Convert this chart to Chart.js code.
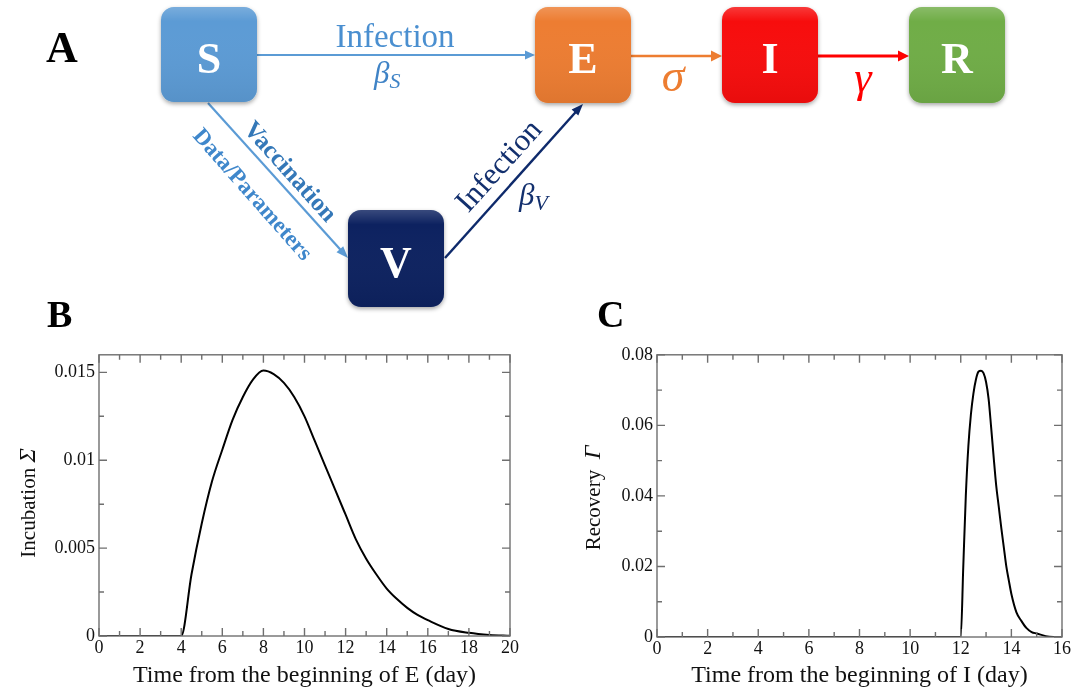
<!DOCTYPE html>
<html>
<head>
<meta charset="utf-8">
<script src="https://cdn.jsdelivr.net/npm/chart.js@4.4.0/dist/chart.umd.min.js"></script>
<style>
  html, body { margin: 0; padding: 0; background: #fff; }
  #wrap { position: relative; width: 1082px; height: 692px; overflow: hidden; }
  canvas { position: absolute; }
  #diagram { position: absolute; left: 0; top: 0; pointer-events: none; }
</style>
</head>
<body>
<div id="wrap">
  <canvas id="chartB" width="540" height="352" style="left:0;top:340px"></canvas>
  <canvas id="chartC" width="522" height="352" style="left:560px;top:340px"></canvas>

  <svg id="diagram" width="1082" height="692" xmlns="http://www.w3.org/2000/svg">
    <defs>
      <filter id="shadow" x="-20%" y="-20%" width="140%" height="150%">
        <feDropShadow dx="0" dy="2" stdDeviation="2" flood-color="#000" flood-opacity="0.35"/>
      </filter>
      <linearGradient id="gloss" x1="0" y1="0" x2="0" y2="1">
        <stop offset="0" stop-color="#fff" stop-opacity="0.18"/>
        <stop offset="0.15" stop-color="#fff" stop-opacity="0"/>
        <stop offset="1" stop-color="#000" stop-opacity="0.06"/>
      </linearGradient>
    </defs>

    <g font-family="Liberation Serif" font-weight="bold" fill="#000">
      <text x="46" y="62" font-size="44">A</text>
      <text x="47" y="327" font-size="38">B</text>
      <text x="597" y="327" font-size="38">C</text>
    </g>

    <!-- arrows -->
    <g stroke-linecap="butt">
      <line x1="257" y1="55" x2="527" y2="55" stroke="#5b9bd5" stroke-width="2.2"/>
      <polygon points="535,55 525,50.5 525,59.5" fill="#5b9bd5"/>

      <line x1="208" y1="103" x2="343" y2="252.5" stroke="#5b9bd5" stroke-width="2.2"/>
      <polygon points="348,258 336.5,252.3 343.2,246.3" fill="#5b9bd5"/>

      <line x1="445" y1="258" x2="578" y2="109.5" stroke="#0e2a6b" stroke-width="2.4"/>
      <polygon points="583,104 578.3,115.6 571.6,109.6" fill="#0e2a6b"/>

      <line x1="631" y1="56" x2="713" y2="56" stroke="#ed7d31" stroke-width="2.6"/>
      <polygon points="722,56 711,50.5 711,61.5" fill="#ed7d31"/>

      <line x1="818" y1="56" x2="900" y2="56" stroke="#ff0000" stroke-width="3"/>
      <polygon points="909,56 898,50.5 898,61.5" fill="#ff0000"/>
    </g>

    <!-- compartments -->
    <g filter="url(#shadow)">
      <rect x="161" y="7" width="96" height="95" rx="13" fill="#5b9bd5"/>
      <rect x="535" y="7" width="96" height="96" rx="13" fill="#ed7d31"/>
      <rect x="722" y="7" width="96" height="96" rx="13" fill="#f70a0a"/>
      <rect x="909" y="7" width="96" height="96" rx="13" fill="#70ad47"/>
      <rect x="348" y="210" width="96" height="97" rx="13" fill="#0c2461"/>
    </g>
    <g>
      <rect x="161" y="7" width="96" height="95" rx="13" fill="url(#gloss)"/>
      <rect x="535" y="7" width="96" height="96" rx="13" fill="url(#gloss)"/>
      <rect x="722" y="7" width="96" height="96" rx="13" fill="url(#gloss)"/>
      <rect x="909" y="7" width="96" height="96" rx="13" fill="url(#gloss)"/>
      <rect x="348" y="210" width="96" height="97" rx="13" fill="url(#gloss)"/>
    </g>
    <g font-family="Liberation Serif" font-weight="bold" font-size="44" fill="#fff" text-anchor="middle">
      <text x="209" y="73">S</text>
      <text x="583" y="73">E</text>
      <text x="770" y="73">I</text>
      <text x="957" y="73">R</text>
      <text x="396" y="277">V</text>
    </g>

    <!-- rates and transition labels -->
    <g font-family="Liberation Serif">
      <text x="395" y="47" font-size="33" fill="#4a8fd0" text-anchor="middle">Infection</text>
      <text x="374" y="83" font-size="31" font-style="italic" fill="#3f83c6">β<tspan font-size="22" dy="5">S</tspan></text>
      <text x="673" y="91" font-size="46" font-style="italic" fill="#ed7d31" text-anchor="middle">σ</text>
      <text x="863" y="92" font-size="44" font-style="italic" fill="#ff0000" text-anchor="middle">γ</text>

      <text transform="translate(291,171) rotate(48)" font-size="25" font-weight="bold" fill="#3478b8"
            text-anchor="middle" dominant-baseline="central">Vaccination</text>
      <text transform="translate(253,194) rotate(48.5)" font-size="23" font-weight="bold" fill="#3f87cb"
            text-anchor="middle" dominant-baseline="central">Data/Parameters</text>
      <text transform="translate(498,165) rotate(-48)" font-size="31" fill="#13306e"
            text-anchor="middle" dominant-baseline="central">Infection</text>
      <text x="519" y="205" font-size="31" font-style="italic" fill="#13306e">β<tspan font-size="22" dy="5">V</tspan></text>
    </g>
  </svg>
</div>

<script>
// Panel B: incubation distribution
const incubDays = [0, 4, 4.5, 5, 5.5, 6, 6.5, 7, 7.5, 8, 8.5, 9, 9.5, 10, 10.5, 11, 11.5, 12,
  12.5, 13, 13.5, 14, 14.5, 15, 15.5, 16, 17, 18, 19, 20];
const incubValues = [0, 0, 0.0035, 0.0064, 0.0088, 0.0106, 0.0123, 0.0136, 0.0146, 0.0151, 0.0149,
  0.0144, 0.0136, 0.0125, 0.0111, 0.0097, 0.0083, 0.0069, 0.0055, 0.0044, 0.0035, 0.0027, 0.0021,
  0.0016, 0.0012, 0.0009, 0.0004, 0.00018, 0.00006, 0.00001];
const incubXTicks = [0, 2, 4, 6, 8, 10, 12, 14, 16, 18, 20];
const incubYTicks = [0, 0.005, 0.01, 0.015];

// Panel C: recovery distribution
const recovDays = [0, 12, 12.1, 12.2, 12.3, 12.4, 12.5, 12.6, 12.7, 12.8, 12.9, 13, 13.1, 13.2,
  13.3, 13.4, 13.5, 13.6, 13.7, 13.8, 13.9, 14, 14.2, 14.4, 14.6, 14.8, 15, 15.5, 16];
const recovValues = [0, 0, 0.020, 0.040, 0.054, 0.063, 0.069, 0.073, 0.0752, 0.0755, 0.0748, 0.0723,
  0.0675, 0.0595, 0.0510, 0.0430, 0.0370, 0.0310, 0.0255, 0.0200, 0.0160, 0.0122, 0.0070, 0.0045,
  0.0025, 0.0014, 0.0010, 0.0001, 0];
const recovXTicks = [0, 2, 4, 6, 8, 10, 12, 14, 16];
const recovYTicks = [0, 0.02, 0.04, 0.06, 0.08];

const SERIF = '"Liberation Serif", "Times New Roman", serif';

// grace-style frame with inward major + minor ticks on all four sides
const framePlugin = {
  id: 'frame',
  afterDatasetsDraw(chart, args, opts) {
    const { ctx, chartArea: a, scales: { x, y } } = chart;
    const mids = v => v.slice(1).map((t, i) => (t + v[i]) / 2);
    ctx.save();
    ctx.strokeStyle = '#6f6f6f';
    ctx.lineWidth = 1.4;
    ctx.strokeRect(a.left, a.top, a.right - a.left, a.bottom - a.top);
    ctx.beginPath();
    const xMarks = (vals, len) => vals.forEach(v => {
      const p = x.getPixelForValue(v);
      ctx.moveTo(p, a.bottom); ctx.lineTo(p, a.bottom - len);
      ctx.moveTo(p, a.top); ctx.lineTo(p, a.top + len);
    });
    const yMarks = (vals, len) => vals.forEach(v => {
      const p = y.getPixelForValue(v);
      ctx.moveTo(a.left, p); ctx.lineTo(a.left + len, p);
      ctx.moveTo(a.right, p); ctx.lineTo(a.right - len, p);
    });
    xMarks(opts.xTicks, 8);
    xMarks(mids(opts.xTicks), 5);
    yMarks(opts.yTicks, 8);
    yMarks(mids(opts.yTicks), 5);
    ctx.stroke();
    ctx.restore();
  }
};

// rotated y title with an italic symbol
const yTitlePlugin = {
  id: 'yTitle',
  afterDraw(chart, args, opts) {
    const { ctx } = chart;
    ctx.save();
    ctx.translate(opts.x, opts.y);
    ctx.rotate(-Math.PI / 2);
    ctx.fillStyle = '#111';
    ctx.textBaseline = 'alphabetic';
    const f1 = '21px ' + SERIF, f2 = 'italic 24px ' + SERIF;
    ctx.font = f1;
    const w1 = ctx.measureText(opts.text).width;
    ctx.font = f2;
    const w2 = ctx.measureText(opts.symbol).width;
    const sx = -(w1 + w2) / 2;
    ctx.font = f1;
    ctx.fillText(opts.text, sx, 7);
    ctx.font = f2;
    ctx.fillText(opts.symbol, sx + w1, 7);
    ctx.restore();
  }
};

function makeChart(id, days, values, xTicks, yTicks, xMax, yMax, xTitle, yText, ySymbol, geo) {
  new Chart(document.getElementById(id), {
    type: 'line',
    data: {
      datasets: [{
        data: days.map((d, i) => ({ x: d, y: values[i] })),
        borderColor: '#000',
        borderWidth: 2,
        pointRadius: 0,
        cubicInterpolationMode: 'monotone',
        fill: false
      }]
    },
    options: {
      responsive: false,
      animation: false,
      events: [],
      layout: { padding: { left: 0, right: geo.right, top: geo.top, bottom: 0 } },
      plugins: {
        legend: { display: false },
        tooltip: { enabled: false },
        frame: { xTicks, yTicks },
        yTitle: { text: yText, symbol: ySymbol, x: geo.titleX, y: geo.titleY }
      },
      scales: {
        x: {
          type: 'linear',
          min: 0,
          max: xMax,
          afterBuildTicks: s => { s.ticks = xTicks.map(v => ({ value: v })); },
          afterFit: s => { s.height = geo.xAxisH; },
          grid: { display: false, drawTicks: false },
          border: { display: false },
          ticks: { padding: 1, color: '#111', font: { family: SERIF, size: 18 }, maxRotation: 0 },
          title: { display: true, text: xTitle, color: '#111', font: { family: SERIF, size: 24 },
                   padding: { top: 0, bottom: 2 } }
        },
        y: {
          type: 'linear',
          min: 0,
          max: yMax,
          afterBuildTicks: s => { s.ticks = yTicks.map(v => ({ value: v })); },
          afterFit: s => { s.width = geo.yAxisW; },
          grid: { display: false, drawTicks: false },
          border: { display: false },
          ticks: { padding: 4, color: '#111', font: { family: SERIF, size: 18 },
                   callback: v => String(+v.toFixed(4)) }
        }
      }
    },
    plugins: [framePlugin, yTitlePlugin]
  });
}

makeChart('chartB', incubDays, incubValues, incubXTicks, incubYTicks, 20, 0.016,
  'Time from the beginning of E (day)', 'Incubation ', 'Σ',
  { right: 30, top: 8, xAxisH: 56, yAxisW: 99, titleX: 28, titleY: 163 });

makeChart('chartC', recovDays, recovValues, recovXTicks, recovYTicks, 16, 0.08,
  'Time from the beginning of I (day)', 'Recovery  ', 'Γ',
  { right: 20, top: 13, xAxisH: 55, yAxisW: 97, titleX: 33, titleY: 158 });
</script>
</body>
</html>
